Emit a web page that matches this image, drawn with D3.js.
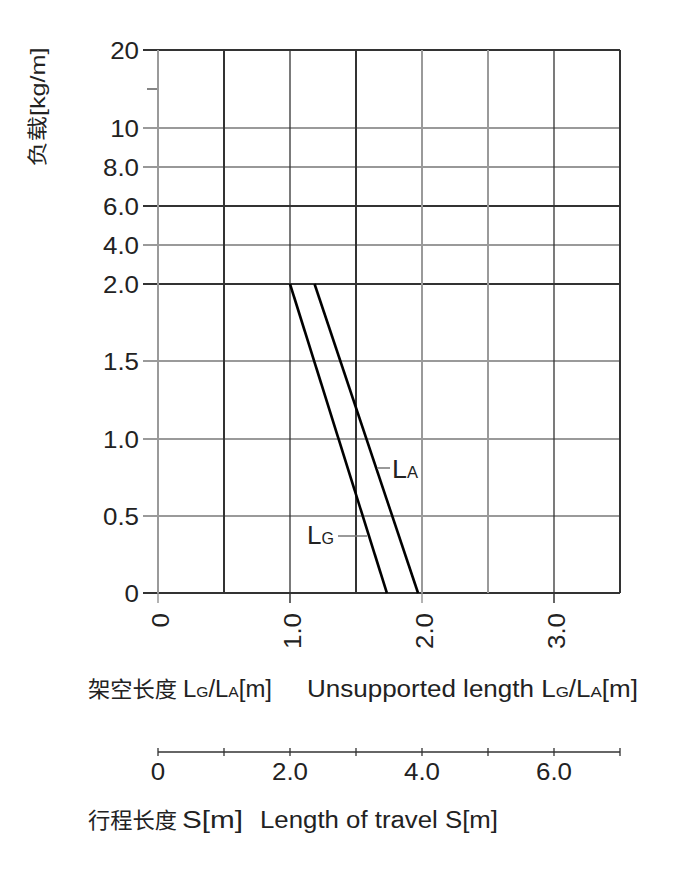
<!DOCTYPE html>
<html>
<head>
<meta charset="utf-8">
<script src="https://cdn.jsdelivr.net/npm/d3@7"></script>
<style>
  body { margin: 0; background: #fff; }
  text { font-family: "Liberation Sans", Arial, "Noto Sans CJK SC", sans-serif; fill: #222; }
</style>
</head>
<body>
<svg id="chart" width="685" height="870"></svg>
<script>
// tick values
var yTicks = [0, 0.5, 1.0, 1.5, 2.0, 4.0, 6.0, 8.0, 10, 20];
var yTickLabels = ["0", "0.5", "1.0", "1.5", "2.0", "4.0", "6.0", "8.0", "10", "20"];
var yMinorTicks = [15];
var xTicks = [0, 1.0, 2.0, 3.0];
var xTickLabels = ["0", "1.0", "2.0", "3.0"];
var xGrid = [0, 0.5, 1.0, 1.5, 2.0, 2.5, 3.0, 3.5];
var sTicks = [0, 1, 2, 3, 4, 5, 6, 7];
var sTickLabels = ["0", "", "2.0", "", "4.0", "", "6.0", ""];

// series: [unsupported length, load]
var lgName = "LG";
var lgLen = [1.0, 1.734];
var lgLoad = [2.0, 0];
var laName = "LA";
var laLen = [1.186, 1.97];
var laLoad = [2.0, 0];

var svg = d3.select("#chart");

// y axis is piecewise: linear 0..2, then stepped up to 20
var y = d3.scaleLinear()
  .domain([0, 0.5, 1, 1.5, 2, 4, 6, 8, 10, 20])
  .range([593, 516, 439, 361, 284, 245, 206, 167, 128, 50]);
var x = d3.scaleLinear().domain([0, 3.5]).range([158, 620]);
var s = d3.scaleLinear().domain([0, 7]).range([158, 620]);

// which grid lines are printed darker
var darkY = [0, 2.0, 6.0, 8.0, 20];
var darkX = [0.5, 1.0, 1.5, 3.0, 3.5];
var dark = "#333", light = "#9a9a9a";
var tickFont = 24, stretch = 1.08;

var grid = svg.append("g");

// horizontal lines + left ticks
grid.selectAll(".hl")
  .data(yTicks)
  .enter().append("line")
    .attr("x1", 143).attr("x2", 620)
    .attr("y1", d => y(d)).attr("y2", d => y(d))
    .attr("stroke", d => darkY.indexOf(d) >= 0 ? dark : light)
    .attr("stroke-width", d => d == 8.0 ? 1.2 : 2);

grid.selectAll(".mt")
  .data(yMinorTicks)
  .enter().append("line")
    .attr("x1", 147).attr("x2", 158)
    .attr("y1", d => y(d)).attr("y2", d => y(d))
    .attr("stroke", dark).attr("stroke-width", 1.2);

// vertical lines
grid.selectAll(".vl")
  .data(xGrid)
  .enter().append("line")
    .attr("x1", d => x(d)).attr("x2", d => x(d))
    .attr("y1", y(20)).attr("y2", y(0))
    .attr("stroke", d => darkX.indexOf(d) >= 0 ? dark : light)
    .attr("stroke-width", d => (d == 1.0 || d == 3.0) ? 1.3 : 2);

// bottom ticks
grid.selectAll(".bt")
  .data(xTicks)
  .enter().append("line")
    .attr("x1", d => x(d)).attr("x2", d => x(d))
    .attr("y1", y(0)).attr("y2", y(0) + 10)
    .attr("stroke", d => darkX.indexOf(d) >= 0 ? dark : light)
    .attr("stroke-width", 1.5);

// y tick labels
svg.append("g").selectAll("text")
  .data(yTicks)
  .enter().append("text")
    .attr("transform", d => "translate(139," + y(d) + ") scale(" + stretch + ",1)")
    .attr("dy", "0.36em")
    .attr("text-anchor", "end")
    .attr("font-size", tickFont)
    .text((d, i) => yTickLabels[i]);

// x tick labels, rotated
svg.append("g").selectAll("text")
  .data(xTicks)
  .enter().append("text")
    .attr("transform", d => "translate(" + (x(d) + 2) + ",613) rotate(-90) scale(" + stretch + ",1)")
    .attr("dy", "0.36em")
    .attr("text-anchor", "end")
    .attr("font-size", tickFont)
    .text((d, i) => xTickLabels[i]);

// curves
var line = d3.line().x(d => x(d[0])).y(d => y(d[1]));
[[lgLen, lgLoad], [laLen, laLoad]].forEach(function(sr) {
  svg.append("path")
    .attr("d", line(d3.zip(sr[0], sr[1])))
    .attr("fill", "none")
    .attr("stroke", "#000")
    .attr("stroke-width", 2.6);
});

// small-caps style label: big first letter, small second
function scLabel(g, xx, yy, str, w) {
  var t = g.append("text").attr("x", xx).attr("y", yy)
    .attr("textLength", w).attr("lengthAdjust", "spacingAndGlyphs");
  t.append("tspan").attr("font-size", 26).text(str[0]);
  t.append("tspan").attr("font-size", 16).text(str.slice(1));
  return t;
}

// leader lines and labels
svg.append("line")
  .attr("x1", 377).attr("x2", 390).attr("y1", 468).attr("y2", 468)
  .attr("stroke", "#777").attr("stroke-width", 1.5);
scLabel(svg, 392, 478, laName, 26);

svg.append("line")
  .attr("x1", 338).attr("x2", 367).attr("y1", 536).attr("y2", 536)
  .attr("stroke", "#777").attr("stroke-width", 1.5);
scLabel(svg, 307, 544, lgName, 27);

// y title
svg.append("text")
  .attr("transform", "translate(45,107) rotate(-90)")
  .attr("text-anchor", "middle")
  .attr("font-size", 20)
  .attr("textLength", 119).attr("lengthAdjust", "spacingAndGlyphs")
  .text("负载[kg/m]");

// text piece with fixed width
function piece(xx, yy, w, size) {
  return svg.append("text").attr("x", xx).attr("y", yy)
    .attr("font-size", size)
    .attr("textLength", w).attr("lengthAdjust", "spacingAndGlyphs");
}
function lgla(t) {
  t.append("tspan").text("L");
  t.append("tspan").attr("font-size", 15).text("G");
  t.append("tspan").text("/L");
  t.append("tspan").attr("font-size", 15).text("A");
  t.append("tspan").text("[m]");
}

// x title
piece(88, 697, 89, 22).text("架空长度");
lgla(piece(183, 697, 89, 23));
var ut = piece(307, 697, 331, 23);
ut.append("tspan").text("Unsupported length ");
lgla(ut);

// travel axis
var sy = 752;
svg.append("line")
  .attr("x1", s(0)).attr("x2", s(7)).attr("y1", sy).attr("y2", sy)
  .attr("stroke", dark).attr("stroke-width", 1.5);
svg.append("g").selectAll("line")
  .data(sTicks)
  .enter().append("line")
    .attr("x1", d => s(d)).attr("x2", d => s(d))
    .attr("y1", sy - 4).attr("y2", sy + 4)
    .attr("stroke", dark).attr("stroke-width", 1.3);
svg.append("g").selectAll("text")
  .data(sTicks)
  .enter().append("text")
    .attr("transform", d => "translate(" + s(d) + ",780) scale(" + stretch + ",1)")
    .attr("text-anchor", "middle")
    .attr("font-size", tickFont)
    .text((d, i) => sTickLabels[i]);

piece(88, 828, 89, 22).text("行程长度");
piece(182, 828, 61, 23).text("S[m]");
piece(260, 828, 238, 23).text("Length of travel S[m]");
</script>
</body>
</html>
